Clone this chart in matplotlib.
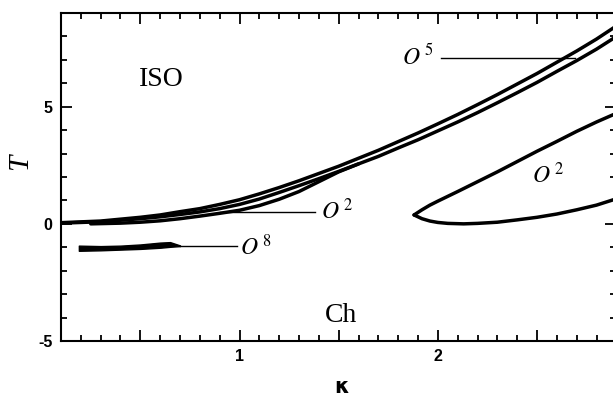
import matplotlib
matplotlib.use("Agg")
import matplotlib.pyplot as plt
from matplotlib.ticker import FixedLocator, MultipleLocator

plt.rcParams['axes.unicode_minus'] = False
plt.rcParams['mathtext.fontset'] = 'stix'

# ---- data ----
# upper O5 branch (top curve)
kA = [0.10, 0.30, 0.50, 0.60, 0.70, 0.80, 0.90, 1.00, 1.10, 1.20, 1.30, 1.40, 1.50, 1.60, 1.70,
      1.80, 1.90, 2.00, 2.10, 2.20, 2.30, 2.40, 2.50, 2.60, 2.70, 2.80, 2.90]
tA = [0.05, 0.12, 0.28, 0.38, 0.52, 0.65, 0.83, 1.03, 1.28, 1.55, 1.84, 2.15, 2.46, 2.80, 3.14,
      3.51, 3.88, 4.27, 4.67, 5.09, 5.52, 5.97, 6.42, 6.90, 7.38, 7.89, 8.45]
# O5 branch (second curve)
kB = [0.10, 0.30, 0.50, 0.60, 0.70, 0.80, 0.90, 1.00, 1.10, 1.20, 1.30, 1.40, 1.50, 1.60, 1.70,
      1.80, 1.90, 2.00, 2.10, 2.20, 2.30, 2.40, 2.50, 2.60, 2.70, 2.80, 2.90]
tB = [0.03, 0.09, 0.22, 0.30, 0.40, 0.51, 0.65, 0.83, 1.06, 1.34, 1.63, 1.93, 2.24, 2.56, 2.88,
      3.24, 3.59, 3.97, 4.35, 4.75, 5.17, 5.60, 6.04, 6.51, 6.97, 7.46, 8.00]
# left O2 branch
kC = [0.25, 0.40, 0.50, 0.60, 0.70, 0.80, 0.90, 1.00, 1.10, 1.20, 1.30, 1.40, 1.50, 1.60]
tC = [0.00, 0.03, 0.07, 0.13, 0.22, 0.33, 0.45, 0.58, 0.78, 1.05, 1.38, 1.80, 2.22, 2.56]
# right O2 lobe (upper and lower branches from the nose)
kD_up = [1.88, 1.92, 1.96, 2.00, 2.10, 2.20, 2.30, 2.40, 2.50, 2.60, 2.70, 2.80, 2.90]
tD_up = [0.38, 0.60, 0.80, 0.97, 1.38, 1.80, 2.22, 2.66, 3.10, 3.52, 3.95, 4.35, 4.72]
kD_lo = [1.88, 1.92, 1.96, 2.00, 2.05, 2.13, 2.20, 2.30, 2.40, 2.50, 2.60, 2.70, 2.80, 2.90]
tD_lo = [0.38, 0.22, 0.12, 0.06, 0.02, 0.00, 0.02, 0.07, 0.17, 0.28, 0.42, 0.60, 0.80, 1.07]
# O8 sliver
kE = [0.19, 0.30, 0.40, 0.50, 0.60, 0.65, 0.70]
tE_top = [-0.93, -0.95, -0.93, -0.88, -0.80, -0.78, -0.92]
tE_bot = [-1.15, -1.13, -1.10, -1.07, -1.02, -0.98, -0.95]

x_major = [0.5, 1.0, 1.5, 2.0, 2.5]
x_labels = ['', '1', '', '2', '']
y_major = [-5, 0, 5]
y_labels = ['-5', '0', '5']

fig = plt.figure(figsize=(6.13, 3.96), dpi=100)
ax = fig.add_axes([0.0995, 0.139, 0.906, 0.828])

lw = 2.5
for k, t in [(kA, tA), (kB, tB), (kC, tC), (kD_up, tD_up), (kD_lo, tD_lo)]:
    ax.plot(k, t, color='black', lw=lw, solid_capstyle='round', solid_joinstyle='round')
ax.fill_between(kE, tE_bot, tE_top, color='black', lw=1.0, edgecolor='black')

# pointer lines
ax.plot([2.015, 2.69], [7.07, 7.07], color='black', lw=1.0)
ax.plot([0.90, 1.38], [0.50, 0.50], color='black', lw=1.0)
ax.plot([0.70, 0.985], [-0.96, -0.96], color='black', lw=1.0)

# labels
lab_kw = dict(fontsize=17, color='black', va='center', ha='left')
ax.text(1.82, 7.15, r'$O^{\;5}$', **lab_kw)
ax.text(1.41, 0.55, r'$O^{\;2}$', **lab_kw)
ax.text(1.005, -1.0, r'$O^{\;8}$', **lab_kw)
ax.text(2.475, 2.05, r'$O^{\;2}$', **lab_kw)

ax.text(0.604, 6.15, 'ISO', fontsize=20, family='Liberation Serif', ha='center', va='center')
ax.text(1.51, -3.93, 'Ch', fontsize=20, family='Liberation Serif', ha='center', va='center')

ax.set_xlim(0.1, 2.9)
ax.set_ylim(-5, 9)

ax.xaxis.set_major_locator(FixedLocator(x_major))
ax.set_xticklabels(x_labels)
ax.xaxis.set_minor_locator(MultipleLocator(0.1))
ax.yaxis.set_major_locator(FixedLocator(y_major))
ax.set_yticklabels(y_labels)
ax.yaxis.set_minor_locator(MultipleLocator(1))

ax.tick_params(which='both', direction='in', top=True, right=True, width=1.3, colors='black')
ax.tick_params(which='major', length=8, pad=6)
ax.tick_params(which='minor', length=4)
for lab in ax.get_xticklabels() + ax.get_yticklabels():
    lab.set_fontfamily('Liberation Sans')
    lab.set_fontweight('bold')
    lab.set_fontsize(11.5)

for s in ax.spines.values():
    s.set_linewidth(1.5)

ax.set_ylabel('T', fontsize=21, family='Liberation Serif', style='italic')
ax.yaxis.set_label_coords(-0.051, 0.546)
ax.set_xlabel('κ', fontsize=15, family='DejaVu Sans', fontweight='bold', va='center')
ax.xaxis.set_label_coords(0.505, -0.14)

fig.savefig('out.png', dpi=100)
